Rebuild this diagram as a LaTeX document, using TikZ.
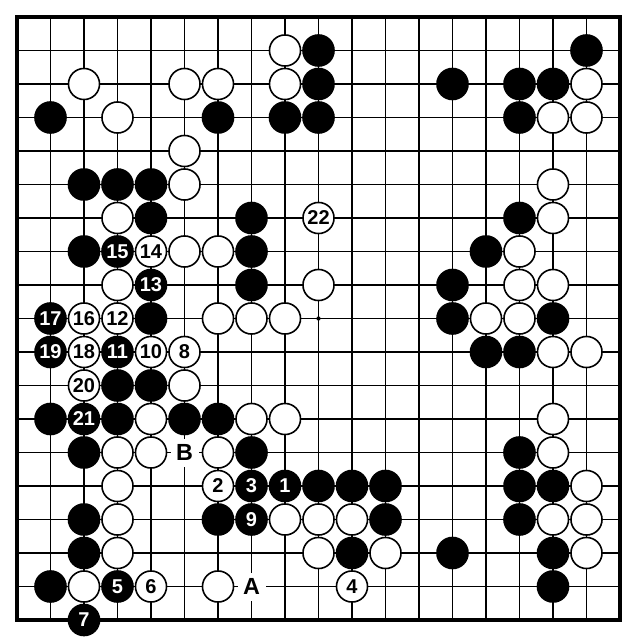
\documentclass[tikz,border=0pt]{standalone}
\usepackage{fontspec}
\setmainfont{Liberation Sans}
\begin{document}
\begin{tikzpicture}[x=0.75pt,y=-0.75pt,
  gridline/.style={line width=1.25pt,black},
  boardedge/.style={line width=3.2pt,black},
  stonefont/.style={font=\bfseries\fontsize{15}{15}\selectfont},
  bstone/.style={circle,fill=black,draw=black,line width=1.2pt,minimum size=23.3pt,inner sep=0pt,text=white,stonefont},
  wstone/.style={circle,fill=white,draw=black,line width=1.2pt,minimum size=23.3pt,inner sep=0pt,text=black,stonefont},
  letterlabel/.style={rectangle,fill=white,minimum size=21pt,inner sep=0pt,font=\bfseries\fontsize{17.5}{17.5}\selectfont},
  hoshi/.style={circle,fill=black,minimum size=3.2pt,inner sep=0pt}
]
\useasboundingbox (0,0) rectangle (640,642);
% grid
\foreach \i in {1,...,17} {
  \draw[gridline] ({17+33.5*\i},17) -- ({17+33.5*\i},620);
  \draw[gridline] (17,{17+33.5*\i}) -- (620,{17+33.5*\i});
}
\draw[boardedge] (17,17) rectangle (620,620);
\node[hoshi] (star) at ({17+33.5*9},{17+33.5*9}) {};
% plain black stones (col/row)
\foreach \c/\r in {9/1,17/1,
  9/2,13/2,15/2,16/2,
  1/3,6/3,8/3,9/3,15/3,
  2/5,3/5,4/5,
  4/6,7/6,15/6,
  2/7,7/7,14/7,
  7/8,13/8,
  4/9,13/9,16/9,
  14/10,15/10,
  3/11,4/11,
  1/12,3/12,5/12,6/12,
  2/13,7/13,15/13,
  9/14,10/14,11/14,15/14,16/14,
  2/15,6/15,11/15,15/15,
  2/16,10/16,13/16,16/16,
  1/17,16/17}
  \node[bstone] (b\c-\r) at ({17+33.5*\c},{17+33.5*\r}) {};
% plain white stones
\foreach \c/\r in {8/1,
  2/2,5/2,6/2,8/2,17/2,
  3/3,16/3,17/3,
  5/4,
  5/5,16/5,
  3/6,16/6,
  5/7,6/7,15/7,
  3/8,9/8,15/8,16/8,
  6/9,7/9,8/9,14/9,15/9,
  16/10,17/10,
  5/11,
  4/12,7/12,8/12,16/12,
  3/13,4/13,6/13,16/13,
  3/14,17/14,
  3/15,8/15,9/15,10/15,16/15,17/15,
  3/16,9/16,11/16,17/16,
  2/17,6/17}
  \node[wstone] (w\c-\r) at ({17+33.5*\c},{17+33.5*\r}) {};
% numbered black stones
\foreach \c/\r/\n in {8/14/1,7/14/3,3/17/5,2/18/7,7/15/9,3/10/11,4/8/13,3/7/15,1/9/17,1/10/19,2/12/21}
  \node[bstone] (m\n) at ({17+33.5*\c},{17+33.5*\r}) {\n};
% numbered white stones
\foreach \c/\r/\n in {6/14/2,10/17/4,4/17/6,5/10/8,4/10/10,3/9/12,4/7/14,2/9/16,2/10/18,2/11/20,9/6/22}
  \node[wstone] (m\n) at ({17+33.5*\c},{17+33.5*\r}) {\n};
% letters
\node[letterlabel] (labA) at ({17+33.5*7},{17+33.5*17}) {A};
\node[letterlabel] (labB) at ({17+33.5*5},{17+33.5*13}) {B};
\end{tikzpicture}
\end{document}
